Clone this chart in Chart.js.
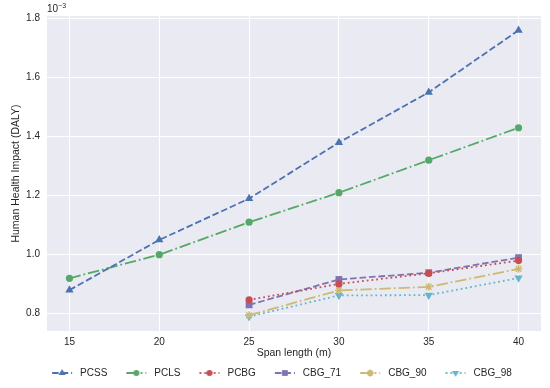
<!DOCTYPE html>
<html><head><meta charset="utf-8">
<script src="https://cdn.jsdelivr.net/npm/chart.js@4/dist/chart.umd.min.js"></script>
<style>html,body{margin:0;padding:0;background:#fff}</style>
</head><body>
<canvas id="c" width="550" height="388" style="width:550px;height:388px"></canvas>
<script>
const spans = [15, 20, 25, 30, 35, 40];
const spansCBG = [25, 30, 35, 40];
const pcss = [0.88, 1.05, 1.19, 1.38, 1.55, 1.76];
const pcls = [0.92, 1.00, 1.11, 1.21, 1.32, 1.43];
const pcbg = [0.847, 0.901, 0.937, 0.980];
const cbg71 = [0.830, 0.916, 0.939, 0.990];
const cbg90 = [0.795, 0.879, 0.891, 0.952];
const cbg98 = [0.790, 0.862, 0.863, 0.921];
const xTicks = [15, 20, 25, 30, 35, 40];
const yTicks = [0.8, 1.0, 1.2, 1.4, 1.6, 1.8];
const seriesNames = ['PCSS', 'PCLS', 'PCBG', 'CBG_71', 'CBG_90', 'CBG_98'];

const FONT = "'Liberation Sans', Arial, sans-serif";
const TXT = '#262626';
const LW = 1.8;
const DASHED = [6.6, 2.9], DASHDOT = [11.5, 2.9, 1.8, 2.9], DOTTED = [1.8, 2.97];
const styles = [
  {color: '#4C72B0', dash: DASHED, marker: 'triangle', r: 4.8},
  {color: '#55A868', dash: DASHDOT, marker: 'circle', r: 3.6},
  {color: '#C44E52', dash: DOTTED, marker: 'circle', r: 3.6},
  {color: '#8172B2', dash: DASHED, marker: 'rect', r: 4.8},
  {color: '#CCB974', dash: DASHDOT, marker: 'star', r: 4},
  {color: '#64B5CD', dash: DOTTED, marker: 'triangle', r: 4.8, rot: 180}
];
const xs = [spans, spans, spansCBG, spansCBG, spansCBG, spansCBG];
const ys = [pcss, pcls, pcbg, cbg71, cbg90, cbg98];

const datasets = seriesNames.map((n, i) => ({
  label: n,
  data: xs[i].map((x, j) => ({x: x, y: ys[i][j]})),
  borderColor: styles[i].color,
  backgroundColor: styles[i].color,
  borderWidth: LW,
  borderDash: styles[i].dash,
  pointStyle: styles[i].marker,
  pointRadius: styles[i].r,
  pointRotation: styles[i].rot || 0,
  pointBorderWidth: styles[i].marker === 'star' ? 1.4 : 0,
  pointBorderColor: styles[i].color,
  pointBackgroundColor: styles[i].color,
  tension: 0,
  fill: false
}));

function legendIcon(i) {
  const s = styles[i];
  const c = document.createElement('canvas');
  const extra = 13, hw = 20, right = 3;
  c.width = extra + hw + right; c.height = 12;
  const g = c.getContext('2d');
  g.strokeStyle = s.color; g.fillStyle = s.color; g.lineWidth = LW; g.setLineDash(s.dash);
  g.beginPath(); g.moveTo(extra, 6); g.lineTo(extra + hw, 6); g.stroke();
  g.setLineDash([]);
  Chart.helpers.drawPoint(g, {pointStyle: s.marker, radius: s.r * 0.85, rotation: s.rot || 0, borderWidth: s.marker === 'star' ? 1.3 : 0}, extra + hw / 2, 6);
  return c;
}

const bgPlugin = {
  id: 'bg',
  beforeDraw(chart) {
    const {ctx, chartArea: a} = chart;
    ctx.save(); ctx.fillStyle = '#EAEAF2';
    ctx.fillRect(a.left, a.top, a.right - a.left, a.bottom - a.top);
    ctx.restore();
  },
  afterDraw(chart) {
    const {ctx, chartArea: a} = chart;
    ctx.save(); ctx.fillStyle = TXT;
    ctx.textBaseline = 'alphabetic';
    ctx.font = '10px ' + FONT;
    ctx.fillText('10', a.left, a.top - 4);
    const w = ctx.measureText('10').width;
    ctx.font = '7px ' + FONT;
    ctx.fillText('\u22123', a.left + w, a.top - 8);
    ctx.restore();
  }
};

new Chart(document.getElementById('c'), {
  type: 'line',
  data: {datasets},
  plugins: [bgPlugin],
  options: {
    responsive: false,
    animation: false,
    devicePixelRatio: 1,
    layout: {padding: {top: 16, right: 9, bottom: 0, left: 10}},
    plugins: {
      tooltip: {enabled: false},
      legend: {
        position: 'bottom',
        labels: {
          usePointStyle: true,
          pointStyleWidth: 36,
          boxHeight: 10,
          padding: 6,
          color: TXT,
          font: {family: FONT, size: 10},
          generateLabels(chart) {
            return seriesNames.map((n, i) => ({
              text: n, pointStyle: legendIcon(i), datasetIndex: i,
              fontColor: TXT, lineWidth: 0, hidden: false
            }));
          }
        }
      }
    },
    scales: {
      x: {
        type: 'linear', min: 13.75, max: 41.25,
        afterBuildTicks(s) { s.ticks = xTicks.map(v => ({value: v})); },
        afterFit(s) { s.height = 31; },
        grid: {color: '#FFFFFF', lineWidth: 1, drawTicks: false},
        border: {display: false},
        ticks: {color: TXT, font: {family: FONT, size: 10}, padding: 5, maxRotation: 0,
          callback: v => String(v)},
        title: {display: true, text: 'Span length (m)', color: TXT, font: {family: FONT, size: 10.5}, padding: {top: 0, bottom: 3}}
      },
      y: {
        type: 'linear', min: 0.7415, max: 1.8085,
        afterBuildTicks(s) { s.ticks = yTicks.map(v => ({value: v})); },
        afterFit(s) { s.width = 37; },
        grid: {color: '#FFFFFF', lineWidth: 1, drawTicks: false},
        border: {display: false},
        ticks: {color: TXT, font: {family: FONT, size: 10}, padding: 7,
          callback: v => Number(v).toFixed(1)},
        title: {display: true, text: 'Human Health Impact (DALY)', color: TXT, font: {family: FONT, size: 10.5}, padding: {top: 0, bottom: 4}}
      }
    }
  }
});
</script>
</body></html>
